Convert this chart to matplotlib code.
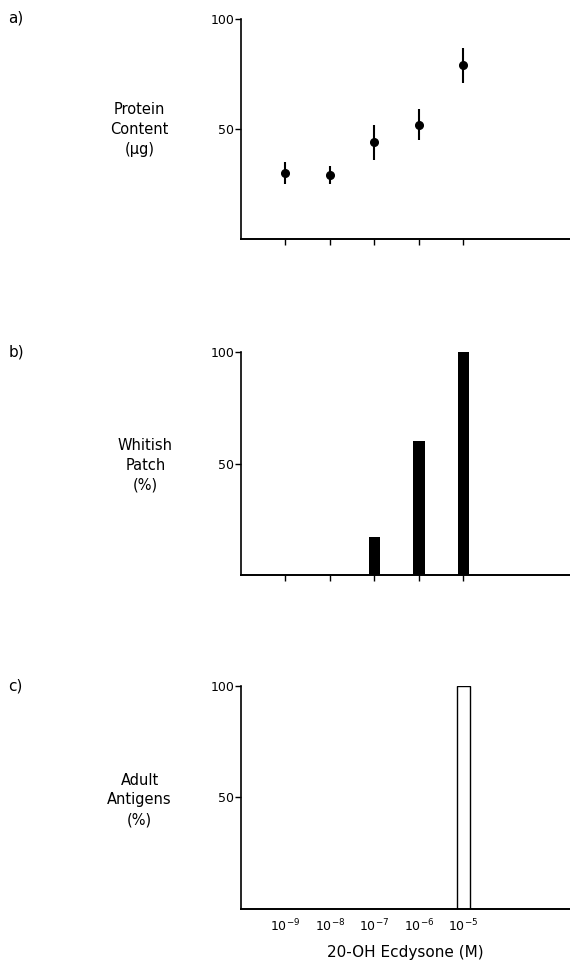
import matplotlib
matplotlib.use("Agg")
import matplotlib.pyplot as plt

# concentrations as log10(M)
log_conc = [-9, -8, -7, -6, -5]
tick_labels = ["$10^{-9}$", "$10^{-8}$", "$10^{-7}$", "$10^{-6}$", "$10^{-5}$"]

protein = [30, 29, 44, 52, 79]
protein_err = [5, 4, 8, 7, 8]

whitish = [0, 0, 17, 60, 100]
antigens = [0, 0, 0, 0, 100]

plt.rcParams['font.family'] = ['DejaVu Sans']

fig = plt.figure(figsize=(5.7, 9.73), dpi=100)
ax1 = fig.add_axes([0.4228, 0.7544, 0.5772, 0.2261])
ax2 = fig.add_axes([0.4228, 0.4090, 0.5772, 0.2292])
ax3 = fig.add_axes([0.4228, 0.0658, 0.5772, 0.2292])

for ax in (ax1, ax2, ax3):
    ax.set_xlim(-10, -2.6)
    ax.set_ylim(0, 100)
    ax.spines['top'].set_visible(False)
    ax.spines['right'].set_visible(False)
    ax.spines['left'].set_linewidth(1.2)
    ax.spines['bottom'].set_linewidth(1.4)
    ax.set_yticks([50, 100])
    ax.set_yticklabels(["50", "100"], fontsize=9)
    ax.tick_params(axis='y', direction='out', length=4, width=1, pad=1)
    ax.set_xticks(log_conc)

# a) protein content
ax1.errorbar(log_conc, protein, yerr=protein_err, fmt='o', color='black',
             markersize=5.5, elinewidth=1.5, capsize=0)
ax1.set_xticklabels([])
ax1.tick_params(axis='x', direction='out', length=4, width=1)

# b) whitish patch
wb = [v if v > 0 else 0 for v in whitish]
ax2.bar(log_conc, wb, width=0.26, color='black')
ax2.set_xticklabels([])
ax2.tick_params(axis='x', direction='out', length=4, width=1)

# c) adult antigens
ax3.bar(log_conc, antigens, width=0.29, facecolor='white', edgecolor='black',
        linewidth=1.0)
ax3.set_xticklabels(tick_labels, fontsize=9)
ax3.tick_params(axis='x', length=0, pad=6)
ax3.set_xlabel("20-OH Ecdysone (M)", fontsize=11, labelpad=8)

# panel letters and y labels
fig.text(0.015, 0.981, "a)", fontsize=11, va='center')
fig.text(0.015, 0.638, "b)", fontsize=11, va='center')
fig.text(0.015, 0.295, "c)", fontsize=11, va='center')

fig.text(0.245, 0.867, "Protein\nContent\n(μg)", fontsize=10.5,
         ha='center', va='center', linespacing=1.4)
fig.text(0.255, 0.522, "Whitish\nPatch\n(%)", fontsize=10.5,
         ha='center', va='center', linespacing=1.4)
fig.text(0.245, 0.178, "Adult\nAntigens\n(%)", fontsize=10.5,
         ha='center', va='center', linespacing=1.4)

fig.savefig("out.png", dpi=100)
